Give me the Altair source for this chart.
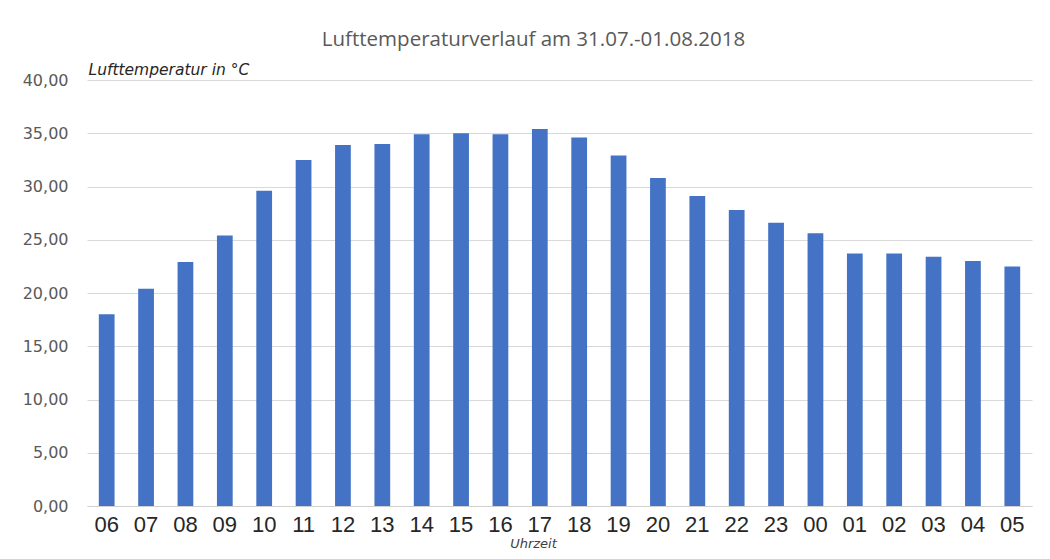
import altair as alt
import pandas as pd

hours = ["06", "07", "08", "09", "10", "11", "12", "13", "14", "15", "16", "17",
         "18", "19", "20", "21", "22", "23", "00", "01", "02", "03", "04", "05"]
temps = [18.0, 20.4, 22.9, 25.4, 29.6, 32.5, 33.9, 34.0, 34.9, 35.0, 34.9, 35.4,
         34.6, 32.9, 30.8, 29.1, 27.8, 26.6, 25.6, 23.7, 23.7, 23.4, 23.0, 22.5]
y_ticks = [0, 5, 10, 15, 20, 25, 30, 35, 40]

df = pd.DataFrame({"Uhrzeit": hours, "Temp": temps})

chart = alt.Chart(df).mark_bar(color="#4472C4").encode(
    x=alt.X(
        "Uhrzeit:N",
        sort=hours,
        scale=alt.Scale(paddingInner=0.6, paddingOuter=0.3),
        axis=alt.Axis(
            title="Uhrzeit",
            titleFont="DejaVu Sans",
            titleFontStyle="italic",
            titleFontWeight="normal",
            titleFontSize=13,
            titleColor="#404040",
            titleX=446,
            titleY=37,
            titleAlign="center",
            titleBaseline="middle",
            labelAngle=0,
            labelFont="Liberation Sans",
            labelFontSize=22,
            labelColor="#262626",
            labelBaseline="top",
            labelPadding=8,
            ticks=False,
            domain=True,
            domainColor="#d0d0d0",
            domainWidth=1,
            grid=False,
        ),
    ),
    y=alt.Y(
        "Temp:Q",
        scale=alt.Scale(domain=[0, 40], nice=False),
        axis=alt.Axis(
            title="Lufttemperatur in °C",
            titleFont="DejaVu Sans",
            titleFontStyle="italic",
            titleFontWeight="normal",
            titleFontSize=15.5,
            titleColor="#262626",
            titleAngle=0,
            titleX=1,
            titleY=-11,
            titleAlign="left",
            titleBaseline="middle",
            values=y_ticks,
            labelExpr="replace(format(datum.value, '.2f'), '.', ',')",
            labelFont="DejaVu Sans",
            labelFontSize=16,
            labelColor="#595959",
            labelPadding=19,
            ticks=False,
            domain=False,
            grid=True,
            gridColor="#d9d9d9",
            gridWidth=1,
        ),
    ),
).properties(
    width=945,
    height=426,
    padding={"left": 79, "top": 72, "right": 10, "bottom": 45},
    autosize=alt.AutoSizeParams(type="none"),
    title=alt.TitleParams(
        "Lufttemperaturverlauf am 31.07.-01.08.2018",
        font="Open Sans",
        fontSize=20.5,
        fontWeight="normal",
        color="#595959",
        anchor="middle",
        dx=-26,
        offset=12,
    ),
).configure_view(stroke=None)

chart.save("out.html", embed_options={"renderer": "svg", "actions": False})
